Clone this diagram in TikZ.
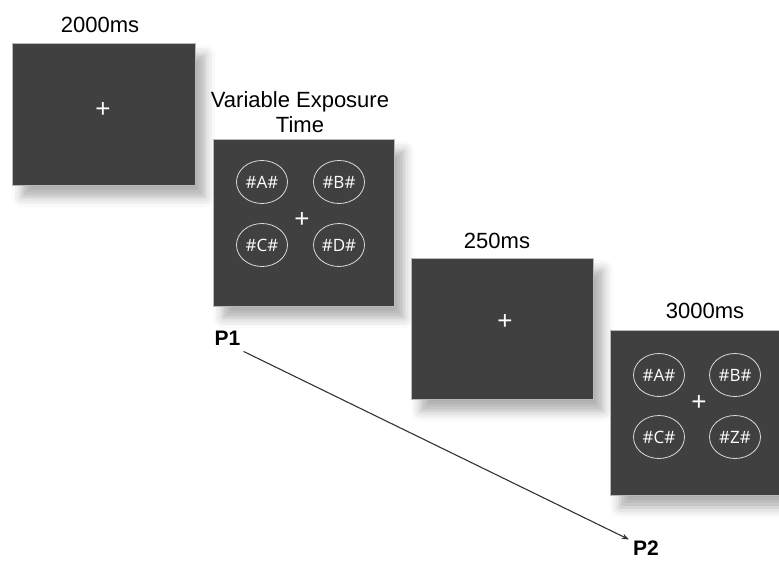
\documentclass[tikz,border=0pt]{standalone}
\usepackage{fontspec}
\setmainfont{Liberation Sans}
\newfontfamily\letterfont{Open Sans}
\usetikzlibrary{shapes.geometric, arrows.meta, positioning, shadows.blur}

\begin{document}
\begin{tikzpicture}[
    x=1pt, y=-1pt,
    >={Stealth[scale=0.9]},
    screen/.style={draw=gray!55, fill=black!75, line width=0.6pt, inner sep=0pt, blur shadow={shadow xshift=10pt, shadow yshift=-12pt, shadow blur radius=10pt, shadow opacity=32}},
    timing/.style={font=\fontsize{22}{25}\selectfont, align=center, inner sep=0pt},
    fixmark/.style={text=white, font=\fontsize{26}{26}\selectfont, inner sep=0pt},
    letters/.style={ellipse, draw=white!85!black, line width=0.8pt, text=white, font=\letterfont\fontsize{17}{17}\selectfont, minimum width=51pt, minimum height=43pt, inner sep=0pt},
    probe/.style={font=\bfseries\fontsize{21}{21}\selectfont, inner sep=0pt},
    arrow/.style={->, line width=1.1pt, black!80}
]
\useasboundingbox (0,0) rectangle (779,562);

% Screens
\node[screen, minimum width=183pt, minimum height=142pt] (fix) at (103.5,114) {};
\node[screen, minimum width=181pt, minimum height=167pt] (study) at (303.5,222.5) {};
\node[screen, minimum width=182pt, minimum height=141pt] (blank) at (502,328.5) {};
\node[screen, minimum width=169pt, minimum height=165pt] (test) at (694.5,413) {};

% Timings
\node[timing] (t1) at (100,24.5) {2000ms};
\node[timing] (t2) at (300,112) {Variable Exposure\\Time};
\node[timing] (t3) at (497,241) {250ms};
\node[timing] (t4) at (705,311) {3000ms};

% Fixation crosses
\node[fixmark] (c1) at (103,110) {+};
\node[fixmark] (c2) at (302,220) {+};
\node[fixmark] (c3) at (505,322) {+};
\node[fixmark] (c4) at (699,403) {+};

% Letter strings
\node[letters] (sA) at (262,182) {\#A\#};
\node[letters] (sB) at (339,182) {\#B\#};
\node[letters] (sC) at (262,245) {\#C\#};
\node[letters] (sD) at (339,245) {\#D\#};

\node[letters] (tA) at (659,375) {\#A\#};
\node[letters] (tB) at (735,375) {\#B\#};
\node[letters] (tC) at (659,437) {\#C\#};
\node[letters] (tZ) at (735,437) {\#Z\#};

% Probes
\node[probe] (p1) at (227.5,338) {P1};
\node[probe] (p2) at (646,548) {P2};

% Arrows
\draw[arrow] ([shift={(3pt,-6pt)}]p1.south east) -- ([shift={(-4pt,1pt)}]p2.north west);

\end{tikzpicture}
\end{document}
